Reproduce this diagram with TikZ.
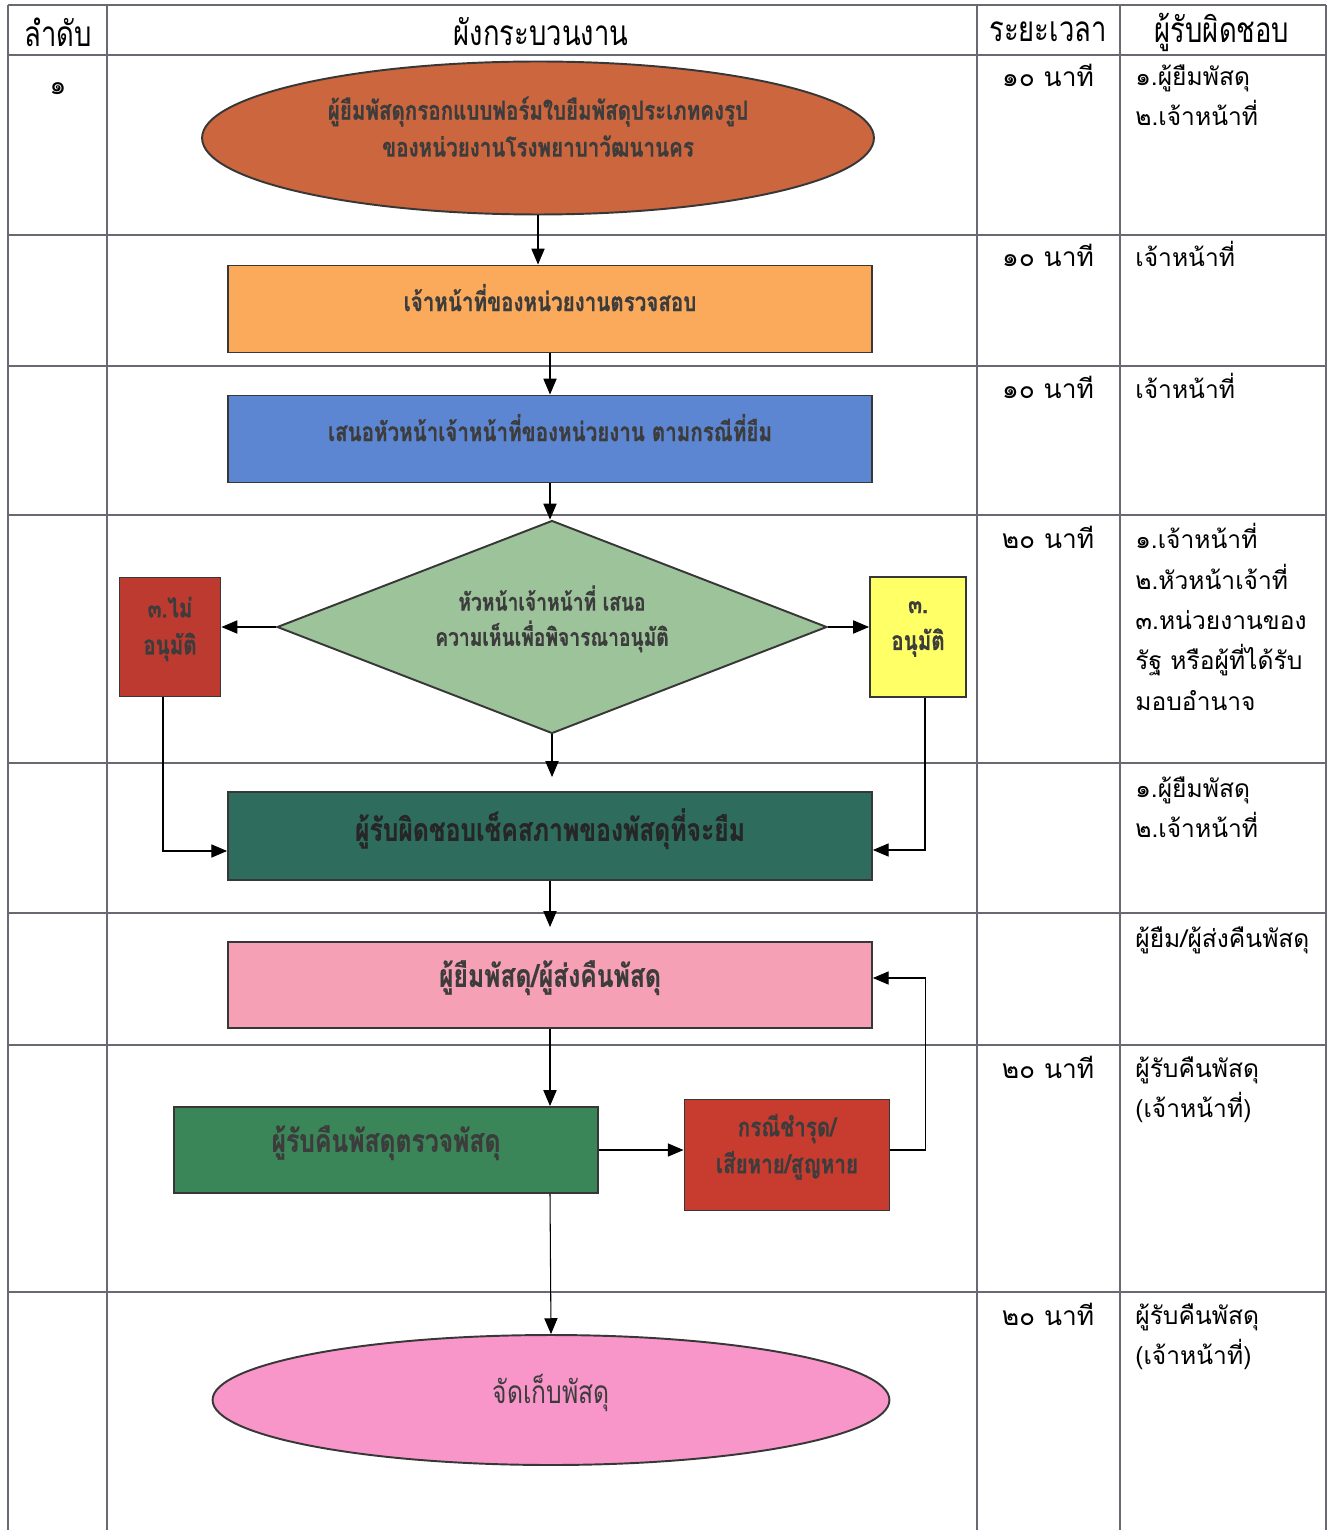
\documentclass[tikz,border=0pt]{standalone}
\usepackage{fontspec}
\usetikzlibrary{shapes.geometric}
\usetikzlibrary{arrows.meta}
\newfontfamily\thaifont[Script=Thai]{Loma}
\newfontfamily\thainarrow[Script=Thai,FakeStretch=0.78,BoldFeatures={FakeBold=0.6}]{Loma}

\definecolor{gridgray}{RGB}{105,105,115}
\definecolor{boxline}{RGB}{55,55,55}
\definecolor{boxtext}{RGB}{60,60,60}
\definecolor{startfill}{RGB}{203,102,62}
\definecolor{checkfill}{RGB}{250,170,90}
\definecolor{proposefill}{RGB}{92,134,210}
\definecolor{decidefill}{RGB}{157,195,155}
\definecolor{denyfill}{RGB}{188,58,48}
\definecolor{approvefill}{RGB}{255,255,102}
\definecolor{inspectfill}{RGB}{46,108,94}
\definecolor{borrowfill}{RGB}{246,160,182}
\definecolor{receivefill}{RGB}{58,134,88}
\definecolor{damagefill}{RGB}{200,60,48}
\definecolor{storefill}{RGB}{248,150,202}

\tikzstyle{flowbox}=[
      rectangle,
      inner sep = 0pt,
      line width = 1.1pt,
      draw = boxline,
      text = boxtext,
      align = center,
      text depth = 13pt,
      font = \thainarrow\bfseries\fontsize{15}{21}\selectfont
      ]
\tikzstyle{flowbig}=[flowbox, font = \thainarrow\bfseries\fontsize{18}{21}\selectfont]
\tikzstyle{flowoval}=[flowbox, ellipse]
\tikzstyle{flowdiamond}=[flowbox, diamond, aspect = 2.58, font = \thainarrow\bfseries\fontsize{14}{20}\selectfont]
\tikzstyle{gridline}=[draw = gridgray, line width = 0.7pt]
\tikzstyle{cellhead}=[inner sep = 0pt, font = \thainarrow\fontsize{20}{22}\selectfont]
\tikzstyle{celltext}=[
      anchor = north west,
      inner sep = 0pt,
      align = left,
      font = \thaifont\fontsize{14}{23}\selectfont
      ]
\tikzstyle{timetext}=[celltext, anchor = north, font = \thaifont\fontsize{15}{23}\selectfont]
\tikzstyle{flowarrow}=[-{Triangle[length=9pt,width=7.5pt]}, line width = 0.6pt]

\begin{document}
\begin{tikzpicture}[x=0.02cm,y=-0.02cm]
\useasboundingbox (0,0) rectangle (1333,1530);

% table
\foreach \x in {8,107,977,1120,1326}
  \draw[gridline] (\x,5) -- (\x,1530);
\foreach \y in {5,55,235,366,515,763,913,1045,1292}
  \draw[gridline] (8,\y) -- (1326,\y);

\node[cellhead] (hnum) at (58,32) {ลำดับ};
\node[cellhead] (hflow) at (541,32) {ผังกระบวนงาน};
\node[cellhead] (htime) at (1048,32) {ระยะเวลา};
\node[cellhead] (hwho) at (1222,32) {ผู้รับผิดชอบ};

\node[timetext] (num1) at (58,82) {๑};

% time column
\node[timetext] (time1) at (1048,64) {๑๐ นาที};
\node[timetext] (time2) at (1048,244) {๑๐ นาที};
\node[timetext] (time3) at (1048,376) {๑๐ นาที};
\node[timetext] (time4) at (1048,526) {๒๐ นาที};
\node[timetext] (time7) at (1048,1056) {๒๐ นาที};
\node[timetext] (time8) at (1048,1303) {๒๐ นาที};

% responsible column
\node[celltext] (who1) at (1135,64) {๑.ผู้ยืมพัสดุ\\๒.เจ้าหน้าที่};
\node[celltext] (who2) at (1135,241) {เจ้าหน้าที่};
\node[celltext] (who3) at (1135,373) {เจ้าหน้าที่};
\node[celltext] (who4) at (1135,523) {๑.เจ้าหน้าที่\\๒.หัวหน้าเจ้าที่\\๓.หน่วยงานของ\\รัฐ หรือผู้ที่ได้รับ\\มอบอำนาจ};
\node[celltext] (who5) at (1135,776) {๑.ผู้ยืมพัสดุ\\๒.เจ้าหน้าที่};
\node[celltext] (who6) at (1135,926) {ผู้ยืม/ผู้ส่งคืนพัสดุ};
\node[celltext] (who7) at (1135,1056) {ผู้รับคืนพัสดุ\\(เจ้าหน้าที่)};
\node[celltext] (who8) at (1135,1303) {ผู้รับคืนพัสดุ\\(เจ้าหน้าที่)};

% flow
\node[flowoval, fill = startfill, minimum width = 13.44cm, minimum height = 3.06cm]
  (start) at (538,138) {ผู้ยืมพัสดุกรอกแบบฟอร์มใบยืมพัสดุประเภทคงรูป\\ของหน่วยงานโรงพยาบาวัฒนานคร};
\node[flowbox, fill = checkfill, minimum width = 12.88cm, minimum height = 1.74cm]
  (check) at (550,309) {เจ้าหน้าที่ของหน่วยงานตรวจสอบ};
\node[flowbox, fill = proposefill, minimum width = 12.88cm, minimum height = 1.74cm]
  (propose) at (550,439) {เสนอหัวหน้าเจ้าหน้าที่ของหน่วยงาน ตามกรณีที่ยืม};
\node[flowdiamond, fill = decidefill, minimum width = 11cm, minimum height = 4.26cm]
  (decide) at (552,627) {หัวหน้าเจ้าหน้าที่ เสนอ\\ความเห็นเพื่อพิจารณาอนุมัติ};
\node[flowbox, fill = denyfill, minimum width = 2.02cm, minimum height = 2.38cm]
  (deny) at (170,637) {๓.ไม่\\อนุมัติ};
\node[flowbox, fill = approvefill, minimum width = 1.92cm, minimum height = 2.4cm]
  (approve) at (918,637) {๓.\\อนุมัติ};
\node[flowbig, fill = inspectfill, text = black!85, minimum width = 12.88cm, minimum height = 1.76cm]
  (inspect) at (550,836) {ผู้รับผิดชอบเช็คสภาพของพัสดุที่จะยืม};
\node[flowbig, fill = borrowfill, minimum width = 12.88cm, minimum height = 1.72cm]
  (borrower) at (550,985) {ผู้ยืมพัสดุ/ผู้ส่งคืนพัสดุ};
\node[flowbig, fill = receivefill, minimum width = 8.48cm, minimum height = 1.72cm]
  (receive) at (386,1150) {ผู้รับคืนพัสดุตรวจพัสดุ};
\node[flowbox, fill = damagefill, minimum width = 4.1cm, minimum height = 2.22cm]
  (damage) at (787,1155) {กรณีชำรุด/\\เสียหาย/สูญหาย};
\node[flowoval, fill = storefill, font = \thainarrow\fontsize{18}{21}\selectfont, minimum width = 13.54cm, minimum height = 2.6cm]
  (store) at (551,1400) {จัดเก็บพัสดุ};

\draw[flowarrow] (start.south) -- (start.south |- check.north);
\draw[flowarrow] (check) -- (propose);
\draw[flowarrow] (propose.south) -- (propose.south |- decide.north);
\draw[flowarrow] (decide.west) -- (decide.west -| deny.east);
\draw[flowarrow] (decide.east) -- (decide.east -| approve.west);
\draw[flowarrow, shorten > = 0.28cm] (decide.south) -- (decide.south |- inspect.north);
\draw[flowarrow] ([xshift = -0.14cm]deny.south) |- ([yshift = -0.3cm]inspect.west);
\draw[flowarrow] ([xshift = 0.14cm]approve.south) |- ([yshift = -0.28cm]inspect.east);
\draw[flowarrow, shorten > = 0.28cm] (inspect) -- (borrower);
\draw[flowarrow] (borrower.south) -- (borrower.south |- receive.north);
\draw[flowarrow] (receive.east) -- (receive.east -| damage.west);
\draw[flowarrow] (damage.east |- receive.east) -- ++(35,0) |- ([yshift = 0.14cm]borrower.east);
\draw[flowarrow] (borrower.south |- receive.south) -- (store.north);
\end{tikzpicture}
\end{document}
